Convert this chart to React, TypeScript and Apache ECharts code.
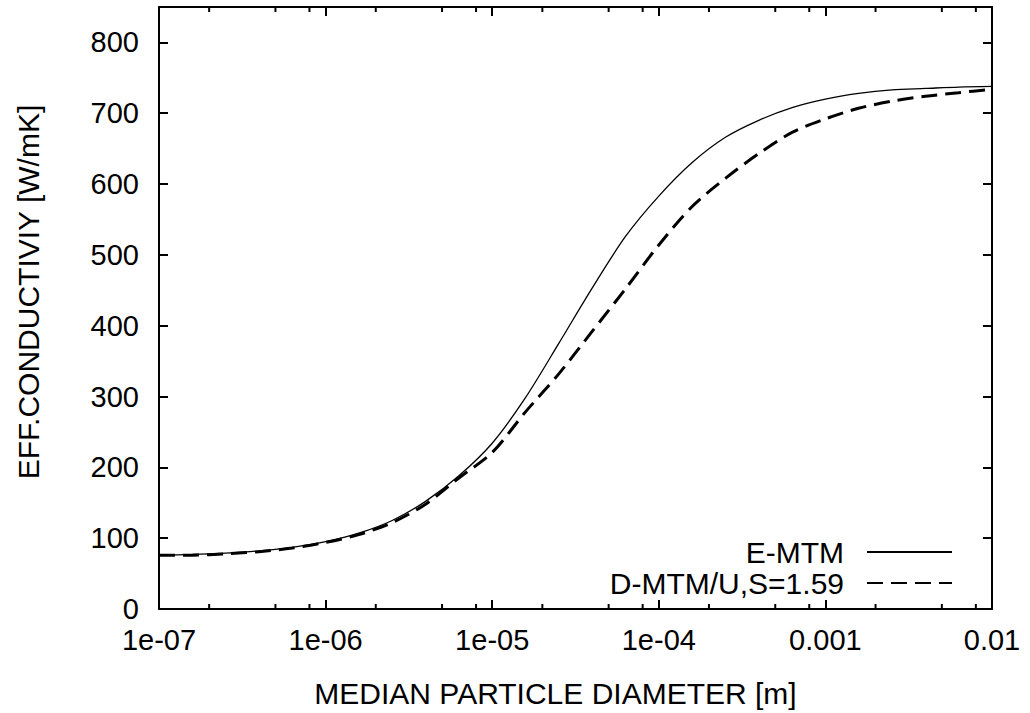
import React, { useEffect, useRef } from "react";
import * as echarts from "echarts";

const diameters = [
  1e-7, 1.58e-7, 2.51e-7, 3.98e-7, 6.31e-7,
  1e-6, 1.58e-6, 2.51e-6, 3.98e-6, 6.31e-6,
  1e-5, 1.58e-5, 2.51e-5, 3.98e-5, 6.31e-5,
  1e-4, 1.58e-4, 2.51e-4, 3.98e-4, 6.31e-4,
  1e-3, 1.58e-3, 2.51e-3, 3.98e-3, 6.31e-3,
  1e-2,
];
const eMtm = [
  76, 77, 79, 82, 87,
  95, 107, 125, 152, 188,
  234, 298, 375, 453, 526,
  583, 630, 666, 690, 708,
  720, 728, 733, 735, 737,
  738,
];
const dMtm = [
  76, 76, 78, 81, 86,
  94, 105, 122, 148, 185,
  221, 278, 332, 392, 452,
  514, 568, 608, 643, 673,
  692, 707, 717, 724, 729,
  734,
];
const xTickValues = [1e-7, 1e-6, 1e-5, 1e-4, 1e-3, 1e-2];
const xTickLabels = ["1e-07", "1e-06", "1e-05", "1e-04", "0.001", "0.01"];
const minorTicks = [
  2e-7, 5e-7, 8e-7, 2e-6, 5e-6, 8e-6, 2e-5, 5e-5, 8e-5,
  2e-4, 5e-4, 8e-4, 2e-3, 5e-3, 8e-3,
];
const seriesNames = ["E-MTM", "D-MTM/U,S=1.59"];
const xTitle = "MEDIAN PARTICLE DIAMETER [m]";
const yTitle = "EFF.CONDUCTIVIY [W/mK]";

const FONT = "Liberation Sans, Arial, sans-serif";
const X_MIN = 1e-7;
const X_MAX = 1e-2;
const Y_MAX = 850;

function tickSeries(data: number[][], size: number[], offset: number[]) {
  return {
    type: "scatter",
    xAxisIndex: 0,
    yAxisIndex: 0,
    silent: true,
    clip: false,
    symbol: "rect",
    symbolSize: size,
    symbolOffset: offset,
    itemStyle: { color: "#000", opacity: 1 },
    data,
    z: 5,
  };
}

const majorTick = { show: true, inside: true, length: 9, lineStyle: { color: "#000", width: 2 } };
const frameLine = { show: true, onZero: false, lineStyle: { color: "#000", width: 2 } };

export default function App() {
  const ref = useRef<HTMLDivElement>(null);
  useEffect(() => {
    if (!ref.current) return;
    const chart = echarts.init(ref.current, undefined, { renderer: "svg" });
    const labelFmt = (v: number) => {
      const i = xTickValues.findIndex((t) => Math.abs(Math.log10(t) - Math.log10(v)) < 1e-6);
      return i >= 0 ? xTickLabels[i] : "";
    };
    chart.setOption({
      animation: false,
      backgroundColor: "#fff",
      textStyle: { fontFamily: FONT },
      grid: { left: 159, right: 38, top: 7, bottom: 104, containLabel: false },
      legend: {
        orient: "vertical",
        align: "right",
        right: 77,
        top: 537,
        padding: 0,
        itemWidth: 85,
        itemHeight: 14,
        itemGap: 1,
        data: seriesNames,
        itemStyle: { opacity: 0 },
        textStyle: { fontSize: 30, lineHeight: 30, color: "#000", fontFamily: FONT, padding: [0, 18, 0, 0] },
      },
      xAxis: [
        {
          type: "log",
          logBase: 10,
          min: X_MIN,
          max: X_MAX,
          position: "bottom",
          name: xTitle,
          nameLocation: "middle",
          nameGap: 69,
          nameTextStyle: { fontSize: 30, color: "#000", fontFamily: FONT, padding: [0, 40, 0, 0] },
          axisLine: frameLine,
          axisTick: majorTick,
          axisLabel: { fontSize: 29, color: "#000", margin: 16, formatter: labelFmt, fontFamily: FONT },
          splitLine: { show: false },
          minorTick: { show: false },
        },
        {
          type: "log",
          logBase: 10,
          min: X_MIN,
          max: X_MAX,
          position: "top",
          axisLine: frameLine,
          axisTick: majorTick,
          axisLabel: { show: false },
          splitLine: { show: false },
        },
      ],
      yAxis: [
        {
          type: "value",
          min: 0,
          max: Y_MAX,
          interval: 100,
          position: "left",
          name: yTitle,
          nameLocation: "middle",
          nameGap: 116,
          nameTextStyle: { fontSize: 30, color: "#000", fontFamily: FONT, padding: [0, 0, 0, 32] },
          axisLine: frameLine,
          axisTick: majorTick,
          axisLabel: { fontSize: 29, color: "#000", margin: 20, showMaxLabel: false, fontFamily: FONT },
          splitLine: { show: false },
        },
        {
          type: "value",
          min: 0,
          max: Y_MAX,
          interval: 100,
          position: "right",
          axisLine: frameLine,
          axisTick: majorTick,
          axisLabel: { show: false },
          splitLine: { show: false },
        },
      ],
      series: [
        {
          name: seriesNames[0],
          type: "line",
          xAxisIndex: 0,
          yAxisIndex: 0,
          data: diameters.map((d, i) => [d, eMtm[i]]),
          showSymbol: false,
          symbol: "none",
          smooth: 0.3,
          lineStyle: { color: "#000", width: 1.3, type: "solid" },
          itemStyle: { color: "#000" },
        },
        {
          name: seriesNames[1],
          type: "line",
          xAxisIndex: 0,
          yAxisIndex: 0,
          data: diameters.map((d, i) => [d, dMtm[i]]),
          showSymbol: false,
          symbol: "none",
          smooth: 0.3,
          lineStyle: { color: "#000", width: 3, type: [16, 8] },
          itemStyle: { color: "#000" },
        },
        tickSeries(minorTicks.map((v) => [v, 0]), [2, 5], [0, -2.5]),
        tickSeries(minorTicks.map((v) => [v, Y_MAX]), [2, 5], [0, 2.5]),
      ],
    });
    return () => chart.dispose();
  }, []);
  return <div ref={ref} style={{ width: 1030, height: 713, position: "absolute", left: 0, top: 0 }} />;
}
